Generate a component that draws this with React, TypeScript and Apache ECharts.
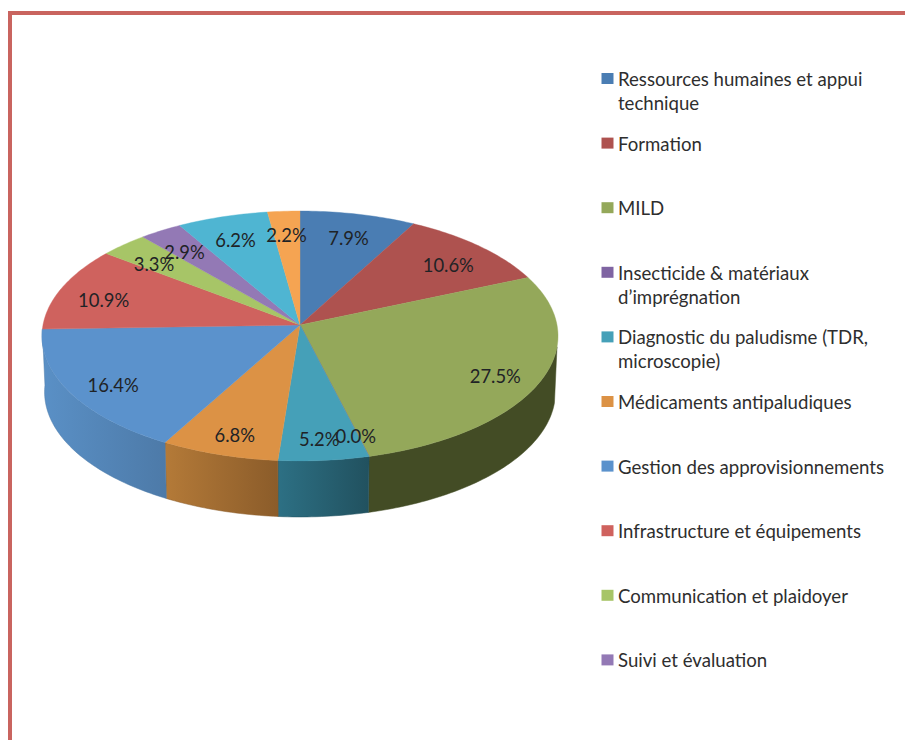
import React, { useEffect, useRef } from "react";
import * as echarts from "echarts";

// Budget shares per intervention, in percent, clockwise from twelve o'clock.
const shares = [7.9, 10.6, 27.5, 0.0, 5.2, 6.8, 16.4, 10.9, 3.3, 2.9, 6.2, 2.2];

const legendNames = [
  "Ressources humaines et appui\ntechnique",
  "Formation",
  "MILD",
  "Insecticide & matériaux\nd’imprégnation",
  "Diagnostic du paludisme (TDR,\nmicroscopie)",
  "Médicaments antipaludiques",
  "Gestion des approvisionnements",
  "Infrastructure et équipements",
  "Communication et plaidoyer",
  "Suivi et évaluation",
];

const faceColors = [
  "#4a7db3", "#ae524f", "#94a85a", "#7f64a2", "#45a0b8", "#dc9245",
  "#5b92cc", "#cf625e", "#a7c567", "#9379b5", "#4fb5d2", "#f5a452",
];

// Left and right shade of the rim under each slice.
const wallShades: [string, string][] = [
  ["#3c5f88", "#3c5f88"], ["#6f3432", "#6f3432"], ["#434c25", "#434c25"], ["#4a3a62", "#4a3a62"],
  ["#2d7084", "#21515f"], ["#b47a38", "#8b5c2a"], ["#5a90c6", "#4d7aa8"], ["#8c403d", "#8c403d"],
  ["#6f8544", "#6f8544"], ["#5e4b78", "#5e4b78"], ["#2f7a90", "#2f7a90"], ["#ad7132", "#ad7132"],
];

// Tilted-disc projection around the pie's hub.
const HUB_X = 300;
const HUB_Y = 325;
const RADIUS_X = 257;
const RADIUS_Y = 124;
const PERSPECTIVE = 0.088;
const RIM_DEPTH = 56;
const RIM_SCALE = 0.99;
const LABEL_RADIUS = 0.82;
const LABEL_DROP = 5;
const RIM_FROM = 100;
const RIM_TO = 268;

const TOTAL = shares.reduce((a, b) => a + b, 0);

const startAngle = (index: number) =>
  (shares.slice(0, index).reduce((a, b) => a + b, 0) / TOTAL) * 360;

const project = (deg: number, r = 1): [number, number] => {
  const t = (deg * Math.PI) / 180;
  const u = r * Math.sin(t);
  const v = r * Math.cos(t);
  const w = 1 + PERSPECTIVE * v;
  return [HUB_X + (RADIUS_X * u) / w, HUB_Y - (RADIUS_Y * v) / w];
};

const arcPoints = (from: number, to: number) => {
  const pts: [number, number][] = [];
  const n = Math.max(1, Math.ceil(to - from));
  for (let i = 0; i <= n; i++) pts.push(project(from + ((to - from) * i) / n));
  return pts;
};

const renderWall = (params: any, api: any) => {
  const i = params.dataIndex;
  const begin = startAngle(i);
  const from = Math.max(begin, RIM_FROM);
  const to = Math.min(begin + (api.value(0) / TOTAL) * 360, RIM_TO);
  if (to <= from) return { type: "group", children: [] };
  const top = arcPoints(from, to);
  const bottom = top
    .map(([x, y]) => [HUB_X + (x - HUB_X) * RIM_SCALE, y + RIM_DEPTH] as [number, number])
    .reverse();
  const [left, right] = wallShades[i];
  return {
    type: "polygon",
    shape: { points: [...top, ...bottom] },
    style: {
      fill: new echarts.graphic.LinearGradient(0, 0, 1, 0, [
        { offset: 0, color: left },
        { offset: 1, color: right },
      ]),
      stroke: right,
      lineWidth: 0.5,
    },
  };
};

const renderFace = (params: any, api: any) => {
  const i = params.dataIndex;
  const from = startAngle(i);
  const to = from + (api.value(0) / TOTAL) * 360;
  return {
    type: "polygon",
    shape: { points: [[HUB_X, HUB_Y], ...arcPoints(from, to)] },
    style: { fill: faceColors[i], stroke: faceColors[i], lineWidth: 0.4 },
  };
};

const renderLabel = (params: any, api: any) => {
  const i = params.dataIndex;
  const value = api.value(0);
  const mid = startAngle(i) + (value / TOTAL) * 180;
  const [x, y] = project(mid, LABEL_RADIUS);
  return {
    type: "text",
    x,
    y: y + LABEL_DROP,
    style: {
      text: `${value.toFixed(1)}%`,
      fill: "#1f2326",
      font: "18.4px Lato",
      align: "center",
      verticalAlign: "middle",
    },
  };
};

const legendGraphics = legendNames.flatMap((name, i) => {
  const y = 79 + i * 64.6;
  return [
    { type: "rect", shape: { x: 601.5, y: y - 6, width: 12, height: 11 }, style: { fill: faceColors[i] } },
    {
      type: "text",
      x: 618,
      y: y - 12,
      style: { text: name, fill: "#2e2e2e", font: "18.6px Lato", lineHeight: 24, verticalAlign: "top" },
    },
  ];
});

const frameGraphics = [
  { type: "rect", shape: { x: 8, y: 11, width: 897, height: 4 }, style: { fill: "#c9645f" } },
  { type: "rect", shape: { x: 8, y: 11, width: 4, height: 729 }, style: { fill: "#c9645f" } },
];

export default function App() {
  const ref = useRef<HTMLDivElement>(null);
  useEffect(() => {
    const chart = echarts.init(ref.current!, undefined, { renderer: "svg" });
    const data = shares.map((value) => [value]);
    chart.setOption({
      animation: false,
      backgroundColor: "#ffffff",
      graphic: [...frameGraphics, ...legendGraphics],
      series: [
        { type: "custom", coordinateSystem: "none", data, renderItem: renderWall, z: 1, silent: true },
        { type: "custom", coordinateSystem: "none", data, renderItem: renderFace, z: 2, silent: true },
        { type: "custom", coordinateSystem: "none", data, renderItem: renderLabel, z: 3, silent: true },
      ],
    });
    return () => chart.dispose();
  }, []);
  return <div ref={ref} style={{ position: "fixed", left: 0, top: 0, width: 905, height: 740 }} />;
}
